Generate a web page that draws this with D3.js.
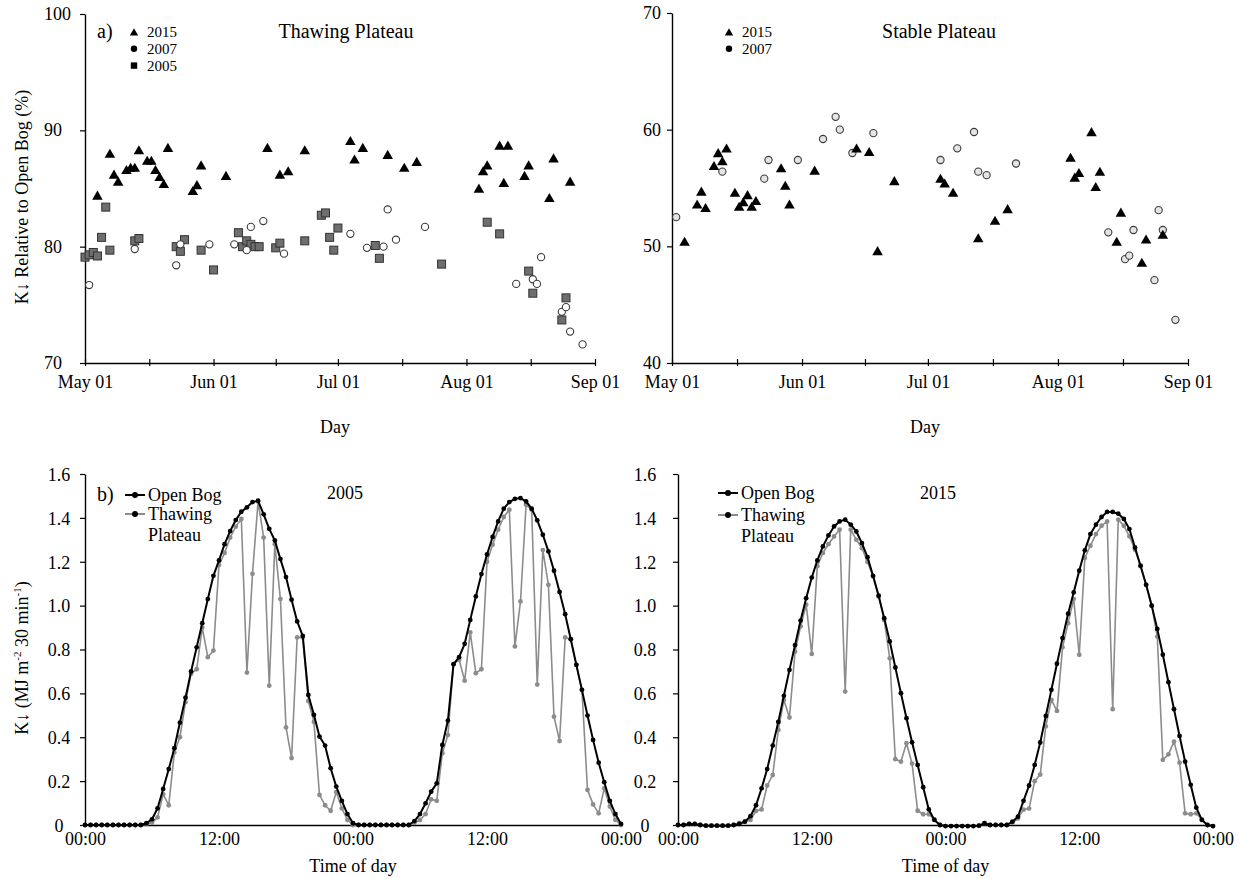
<!DOCTYPE html>
<html><head><meta charset="utf-8">
<script src="https://cdn.jsdelivr.net/npm/d3@7"></script>
<style>
body{margin:0;background:#fff}
svg text{font-family:"Liberation Serif","Times New Roman",serif;fill:#000}
</style></head>
<body><svg id="chart" width="1245" height="879"></svg>
<script>
// ---------------- DATA ----------------
// (a) daily K-down relative to Open Bog (%)
const monthTickDates = ["05-01","06-01","07-01","08-01","09-01"];
const dates2015 = ["05-04","05-07","05-08","05-09","05-11","05-12","05-13","05-14","05-16","05-17","05-18","05-19","05-20","05-21","05-27","05-28","05-29","06-04","06-14","06-17","06-19","06-23","07-04","07-05","07-07","07-13","07-17","07-20","08-04","08-05","08-06","08-09","08-10","08-11","08-15","08-16","08-21","08-22","08-26"];
const thawing2015 = [84.3,87.9,86.1,85.5,86.5,86.7,86.7,88.2,87.3,87.3,86.5,85.9,85.3,88.4,84.7,85.2,86.9,86.0,88.4,86.1,86.4,88.2,89.0,87.4,88.4,87.8,86.7,87.2,84.9,86.4,86.9,88.6,85.4,88.6,86.0,86.9,84.1,87.5,85.5];
const stable2015 = [50.3,53.5,54.6,53.2,56.8,57.9,57.2,58.3,54.5,53.3,53.7,54.3,53.3,53.8,56.6,55.1,53.5,56.4,58.3,58.0,49.5,55.5,55.7,55.3,54.5,50.6,52.1,53.1,57.5,55.8,56.2,59.7,55.0,56.3,50.3,52.8,48.5,50.5,50.9];
const dates2007 = ["05-02","05-13","05-23","05-24","05-31","06-06","06-09","06-10","06-13","06-18","07-04","07-08","07-12","07-13","07-15","07-22","08-13","08-17","08-18","08-19","08-24","08-25","08-26","08-29"];
const thawing2007 = [76.7,79.8,78.4,80.2,80.2,80.2,79.7,81.7,82.2,79.4,81.1,79.9,80.0,83.2,80.6,81.7,76.8,77.2,76.8,79.1,74.4,74.8,72.7,71.6];
const stable2007 = [52.5,56.4,55.8,57.4,57.4,59.2,61.1,60.0,58.0,59.7,57.4,58.4,59.8,56.4,56.1,57.1,51.2,48.9,49.2,51.4,47.1,53.1,51.4,43.7];
const dates2005 = ["05-01","05-02","05-03","05-04","05-05","05-06","05-07","05-13","05-14","05-23","05-24","05-25","05-29","06-01","06-07","06-08","06-09","06-10","06-11","06-12","06-16","06-17","06-23","06-27","06-28","06-29","06-30","07-01","07-10","07-11","07-26","08-06","08-09","08-16","08-17","08-24","08-25"];
const thawing2005 = [79.1,79.3,79.5,79.2,80.8,83.4,79.7,80.5,80.7,80.0,79.6,80.6,79.7,78.0,81.2,80.0,80.5,80.2,80.0,80.0,79.9,80.3,80.5,82.7,82.9,80.8,79.7,81.6,80.1,79.0,78.5,82.1,81.1,77.9,76.0,73.7,75.6];

// (b) half-hourly K-down (MJ m-2 30 min-1), 2 days, index 0..96
const timeTickIndex = [0,24,48,72,96];
const timeTickLabels = ["00:00","12:00","00:00","12:00","00:00"];
const openBogDiurnal2005 = [
0,0,0,0,0,0,0,0,0,0,
0,0.008,0.026,0.076,0.164,0.255,0.35,0.467,0.58,0.70,
0.81,0.92,1.03,1.136,1.206,1.28,1.34,1.39,1.428,1.448,
1.472,1.478,1.416,1.35,1.297,1.212,1.13,1.027,0.928,0.862,
0.593,0.502,0.403,0.362,0.259,0.175,0.11,0.05,0.008,0,
0,0,0,0,0,0,0,0,0,0.018,
0.05,0.099,0.152,0.19,0.365,0.476,0.733,0.765,0.826,0.935,
1.042,1.144,1.233,1.313,1.384,1.442,1.472,1.487,1.49,1.475,
1.442,1.389,1.323,1.247,1.159,1.062,0.961,0.847,0.73,0.616,
0.499,0.388,0.284,0.195,0.11,0.05,0.005];
const thawingDiurnal2005 = [
0,0,0,0,0,0,0,0,0,0,
0,0.005,0.01,0.035,0.14,0.09,0.33,0.40,0.56,0.69,
0.71,0.90,0.765,0.795,1.185,1.24,1.31,1.36,1.395,0.695,
1.145,1.475,1.31,0.635,1.28,1.03,0.445,0.305,0.855,0.855,
0.565,0.47,0.137,0.09,0.065,0.15,0.076,0.023,0,0,
0,0,0,0,0,0,0,0,0,0.01,
0.023,0.05,0.117,0.11,0.327,0.41,0.733,0.753,0.658,0.878,
0.692,0.71,1.2,1.278,1.346,1.404,1.437,0.814,1.019,1.46,
1.437,0.64,1.253,1.095,0.494,0.383,0.855,0.847,0.73,0.616,
0.16,0.094,0.053,0.167,0.084,0.023,0];
const openBogDiurnal2015 = [
0,0,0.005,0.005,0,-0.003,-0.003,-0.003,-0.003,-0.003,
0,0.005,0.015,0.04,0.09,0.167,0.255,0.362,0.47,0.589,
0.707,0.82,0.932,1.034,1.128,1.206,1.27,1.32,1.361,1.384,
1.392,1.369,1.338,1.285,1.221,1.136,1.045,0.943,0.837,0.718,
0.601,0.487,0.377,0.274,0.172,0.071,0.023,0,-0.005,-0.005,
-0.005,-0.005,-0.005,-0.005,-0.003,0.008,0,0,0,0,
0.015,0.038,0.11,0.18,0.274,0.376,0.497,0.616,0.735,0.852,
0.963,1.06,1.159,1.252,1.326,1.369,1.404,1.427,1.427,1.419,
1.395,1.349,1.265,1.182,1.095,1.0,0.894,0.776,0.651,0.528,
0.406,0.289,0.183,0.079,0.023,0,-0.005];
const thawingDiurnal2015 = [
0,0,0.005,0.005,0,-0.003,-0.003,-0.003,-0.003,-0.003,
0,0.01,0.015,0.023,0.064,0.071,0.18,0.228,0.433,0.57,
0.49,0.79,0.905,1.004,0.78,1.18,1.24,1.28,1.315,1.346,
0.608,1.346,1.30,1.262,1.2,1.133,1.042,0.935,0.76,0.30,
0.289,0.373,0.28,0.065,0.049,0.049,0.026,0,-0.005,-0.005,
-0.005,-0.005,-0.005,-0.005,-0.003,0.008,0,0,0,0,
0.01,0.03,0.07,0.075,0.2,0.23,0.45,0.57,0.52,0.81,
0.92,1.03,0.776,1.217,1.273,1.326,1.364,1.384,0.528,1.392,
1.364,1.316,1.255,1.179,1.095,1.0,0.859,0.297,0.322,0.38,
0.284,0.053,0.049,0.053,0.026,0,-0.005];

// ---------------- DRAWING ----------------
const svg = d3.select("#chart");
const FS = 18;
const LEG_FS = 15;
const LEG_STEP = 16.8;
const parseDay = d3.timeParse("%Y-%m-%d");
const toDate = s => parseDay("2015-" + s);
const GREY = "#8c8c8c";

function styleAxis(a){
  a.attr("font-size", FS).attr("font-family", null);
  a.selectAll("path.domain").attr("stroke", "#000").attr("stroke-width", 1.4);
  a.selectAll(".tick line").attr("stroke", "#000").attr("stroke-width", 1.2);
}

function yAxis(y, x0, vals, fmt, labelX, anchor, dy){
  const a = svg.append("g").attr("transform", `translate(${x0},0)`)
    .call(d3.axisLeft(y).tickValues(vals).tickFormat(fmt).tickSize(5).tickSizeOuter(0));
  styleAxis(a);
  a.selectAll(".tick text").attr("x", labelX - x0).attr("text-anchor", anchor).attr("dy", dy || "0.35em");
  return a;
}

function scatterPanel(o){
  const x = d3.scaleTime().domain([toDate("05-01"), toDate("09-01")]).range(o.xr);
  const y = d3.scaleLinear().domain(o.yd).range(o.yr);
  yAxis(y, o.xr[0], d3.range(o.yd[0], o.yd[1] + 1, 10), d3.format("d"), o.yLabelX, "start", "0.3em");
  const mDates = monthTickDates.map(toDate);
  const ax = svg.append("g").attr("transform", `translate(0,${o.yr[0]})`)
    .call(d3.axisBottom(x).tickValues(mDates).tickFormat(d3.timeFormat("%b %d")).tickSize(4).tickPadding(8.5).tickSizeOuter(0));
  styleAxis(ax);
  ax.selectAll(".tick line").attr("y1", -4).attr("y2", 3);
  const mids = d3.pairs(mDates).map(([a, b]) => new Date((+a + +b) / 2));
  const mx = svg.append("g").attr("transform", `translate(0,${o.yr[0]})`)
    .call(d3.axisBottom(x).tickValues(mids).tickFormat("").tickSize(4).tickSizeOuter(0));
  styleAxis(mx);
  mx.select("path.domain").remove();
  mx.selectAll(".tick line").attr("y1", -4).attr("y2", 3);

  const g = svg.append("g");
  if (o.squares) {
    g.selectAll("rect.sq").data(o.squares.dates.map((d, i) => [toDate(d), o.squares.vals[i]]))
      .join("rect").attr("class", "sq")
      .attr("x", d => x(d[0]) - 4).attr("y", d => y(d[1]) - 4)
      .attr("width", 8).attr("height", 8)
      .attr("fill", "#6e6e6e").attr("stroke", "#333").attr("stroke-width", 1);
  }
  g.selectAll("circle.c").data(o.circles.dates.map((d, i) => [toDate(d), o.circles.vals[i]]))
    .join("circle").attr("class", "c")
    .attr("cx", d => x(d[0])).attr("cy", d => y(d[1])).attr("r", 3.6)
    .attr("fill", o.circles.fill).attr("stroke", "#3a3a3a").attr("stroke-width", 1.1);
  const tri = d3.symbol().type(d3.symbolTriangle).size(48);
  g.selectAll("path.t").data(o.tris.dates.map((d, i) => [toDate(d), o.tris.vals[i]]))
    .join("path").attr("class", "t")
    .attr("d", tri).attr("transform", d => `translate(${x(d[0])},${y(d[1])})`)
    .attr("fill", "#000");

  svg.append("text").attr("x", o.titleX).attr("y", 38).attr("text-anchor", "middle")
    .attr("font-size", 20).text(o.title);
  svg.append("text").attr("x", (o.xr[0] + o.xr[1]) / 2 - 5).attr("y", 433).attr("text-anchor", "middle")
    .attr("font-size", FS).text("Day");
  const leg = svg.append("g");
  o.legend.forEach((item, i) => {
    const cy = 32 + i * LEG_STEP;
    if (item.shape === "tri") leg.append("path").attr("d", d3.symbol().type(d3.symbolTriangle).size(30)()).attr("transform", `translate(${o.legX},${cy + 1})`).attr("fill", "#000");
    if (item.shape === "circle") leg.append("circle").attr("cx", o.legX).attr("cy", cy).attr("r", 3.2).attr("fill", "#000");
    if (item.shape === "square") leg.append("rect").attr("x", o.legX - 3.2).attr("y", cy - 3.2).attr("width", 6.4).attr("height", 6.4).attr("fill", "#000");
    leg.append("text").attr("x", o.legX + 13).attr("y", cy + 5).attr("font-size", LEG_FS).text(item.label);
  });
}

scatterPanel({
  xr: [85, 595], yd: [70, 100], yr: [363, 14], yLabelX: 44,
  title: "Thawing Plateau", titleX: 346,
  tris: {dates: dates2015, vals: thawing2015},
  circles: {dates: dates2007, vals: thawing2007, fill: "#ffffff"},
  squares: {dates: dates2005, vals: thawing2005},
  legX: 134,
  legend: [{shape: "tri", label: "2015"}, {shape: "circle", label: "2007"}, {shape: "square", label: "2005"}]
});
scatterPanel({
  xr: [672, 1188], yd: [40, 70], yr: [363, 13], yLabelX: 643,
  title: "Stable Plateau", titleX: 939,
  tris: {dates: dates2015, vals: stable2015},
  circles: {dates: dates2007, vals: stable2007, fill: "#e4e4e4"},
  legX: 729,
  legend: [{shape: "tri", label: "2015"}, {shape: "circle", label: "2007"}]
});
svg.append("text").attr("x", 97).attr("y", 38).attr("font-size", 20).text("a)");
svg.append("text").attr("transform", "translate(22,197) rotate(-90)").attr("text-anchor", "middle")
  .attr("dy", "0.35em").attr("font-size", FS).text("K\u2193 Relative to Open Bog (%)");

// ---- diurnal panels ----
function diurnalPanel(o){
  const x = d3.scaleLinear().domain([0, 96]).range(o.xr);
  const y = d3.scaleLinear().domain([0, 1.6]).range([825, 474]);
  yAxis(y, o.xr[0], d3.range(0, 1.61, 0.2).map(v => +v.toFixed(1)),
        v => v === 0 ? "0" : d3.format(".1f")(v), o.yLabelX, "middle");
  const ax = svg.append("g").attr("transform", "translate(0,825)")
    .call(d3.axisBottom(x).tickValues(timeTickIndex).tickFormat((d, i) => timeTickLabels[i]).tickSize(0).tickPadding(7).tickSizeOuter(0));
  styleAxis(ax);

  const line = d3.line().x((d, i) => x(i)).y(d => y(d));
  const series = [
    {vals: o.thaw, color: GREY, w: 1.6},
    {vals: o.bog, color: "#000", w: 2}
  ];
  series.forEach(s => {
    svg.append("path").attr("d", line(s.vals)).attr("fill", "none")
      .attr("stroke", s.color).attr("stroke-width", s.w).attr("stroke-linejoin", "round");
    svg.append("g").selectAll("circle").data(s.vals).join("circle")
      .attr("cx", (d, i) => x(i)).attr("cy", d => y(d)).attr("r", 2.4).attr("fill", s.color);
  });
  svg.append("text").attr("x", o.titleX).attr("y", 499).attr("text-anchor", "middle").attr("font-size", FS).text(o.title);
  const L = o.leg;
  [[L.y1, "#000"], [L.y2, GREY]].forEach(([yy, c]) => {
    svg.append("line").attr("x1", L.x - 10).attr("x2", L.x + 10).attr("y1", yy).attr("y2", yy).attr("stroke", c).attr("stroke-width", 2);
    svg.append("circle").attr("cx", L.x).attr("cy", yy).attr("r", 3).attr("fill", "#000");
  });
  svg.append("text").attr("x", L.x + 13).attr("y", L.y1 + 6).attr("font-size", FS).text("Open Bog");
  svg.append("text").attr("x", L.x + 13).attr("y", L.y2 + 6).attr("font-size", FS).text("Thawing");
  svg.append("text").attr("x", L.x + 13).attr("y", L.y2 + 27).attr("font-size", FS).text("Plateau");
  svg.append("text").attr("x", (o.xr[0] + o.xr[1]) / 2).attr("y", 872).attr("text-anchor", "middle").attr("font-size", FS).text("Time of day");
}

diurnalPanel({xr: [85, 621], yLabelX: 59, bog: openBogDiurnal2005, thaw: thawingDiurnal2005,
  title: "2005", titleX: 345, leg: {x: 135, y1: 495, y2: 514}});
diurnalPanel({xr: [678, 1213], yLabelX: 645, bog: openBogDiurnal2015, thaw: thawingDiurnal2015,
  title: "2015", titleX: 938, leg: {x: 728, y1: 493, y2: 515}});
svg.append("text").attr("x", 97).attr("y", 501).attr("font-size", 20).text("b)");

const yl = svg.append("text").attr("transform", "translate(22,658) rotate(-90)").attr("text-anchor", "middle")
  .attr("dy", "0.35em").attr("font-size", FS);
yl.append("tspan").text("K\u2193 (MJ m");
yl.append("tspan").attr("dy", -7).attr("font-size", 11).text("-2");
yl.append("tspan").attr("dy", 7).text(" 30 min");
yl.append("tspan").attr("dy", -7).attr("font-size", 11).text("-1");
yl.append("tspan").attr("dy", 7).text(")");
</script>
</body></html>
